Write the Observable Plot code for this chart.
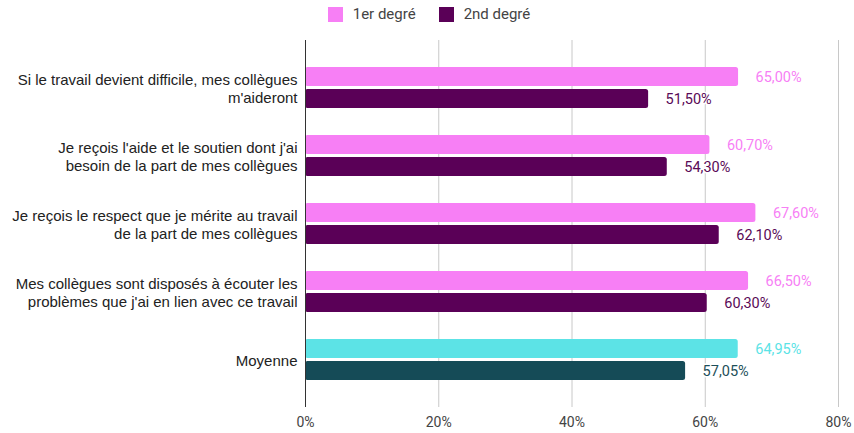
<!DOCTYPE html>
<html>
<head>
<meta charset="utf-8">
<script src="https://cdn.jsdelivr.net/npm/d3@7"></script>
<script src="https://cdn.jsdelivr.net/npm/@observablehq/plot@0.6"></script>
<style>
  html, body { margin: 0; padding: 0; background: #fff; }
  #legend { height: 30px; display: flex; justify-content: center; align-items: center; padding-left: 27px; padding-top: 6px; box-sizing: border-box; }
  #legend span { margin-right: 23px !important; }
  #chart svg { display: block; }
  .ylab text { font-family: 'Liberation Sans', Arial, sans-serif; }
</style>
</head>
<body>
<div id="legend"></div>
<div id="chart"></div>
<script>
const categories = [
  "Si le travail devient difficile, mes collègues\nm'aideront",
  "Je reçois l'aide et le soutien dont j'ai\nbesoin de la part de mes collègues",
  "Je reçois le respect que je mérite au travail\nde la part de mes collègues",
  "Mes collègues sont disposés à écouter les\nproblèmes que j'ai en lien avec ce travail",
  "Moyenne"
];
const premierDegre = [65.00, 60.70, 67.60, 66.50, 64.95];
const secondDegre = [51.50, 54.30, 62.10, 60.30, 57.05];
const seriesNames = ["1er degré", "2nd degré"];
const xTicks = [0, 20, 40, 60, 80];

const colors = {
  pink: "#f77ff5", purple: "#5a0057",
  cyan: "#5ce3e6", teal: "#154b57",
  pinkText: "#f77ff5", purpleText: "#5a0a57",
  cyanText: "#5ce3e6", tealText: "#1d4f5a"
};

const data = categories.map((c, i) => ({cat: c, p: premierDegre[i], s: secondDegre[i], avg: c === "Moyenne"}));
const fmt = v => v.toFixed(2).replace(".", ",") + "%";

const leg = Plot.legend({
  color: {type: "categorical", domain: seriesNames, range: [colors.pink, colors.purple]},
  swatchSize: 15,
  swatchWidth: 15,
  swatchHeight: 15,
  style: {fontFamily: "Roboto", fontSize: "15px", color: "#444", marginLeft: "0px"}
});
document.getElementById("legend").appendChild(leg);
leg.querySelectorAll("svg").forEach(s => { s.style.marginRight = "10px"; });

const chart = Plot.plot({
  width: 854,
  height: 403,
  marginTop: 10,
  marginBottom: 26,
  marginLeft: 305,
  marginRight: 16,
  style: {fontFamily: "Roboto", background: "#fff"},
  x: {domain: [0, 80], ticks: xTicks, tickFormat: d => d + "%"},
  y: {domain: categories, paddingInner: 0.39, paddingOuter: 0.355},
  marks: [
    Plot.gridX(xTicks, {stroke: "#c8c8c8", strokeOpacity: 1}),
    Plot.barX(data, {x: "p", y: "cat", fill: d => d.avg ? colors.cyan : colors.pink, insetBottom: 22, rx: 2.5}),
    Plot.barX(data, {x: "s", y: "cat", fill: d => d.avg ? colors.teal : colors.purple, insetTop: 22, rx: 2.5}),
    Plot.ruleX([0], {stroke: "#333", strokeWidth: 1}),
    Plot.text(data, {x: "p", y: "cat", text: d => fmt(d.p), dy: -11, dx: 17, textAnchor: "start",
      fill: d => d.avg ? colors.cyanText : colors.pinkText, stroke: "white", strokeWidth: 3, fontSize: 14.5}),
    Plot.text(data, {x: "s", y: "cat", text: d => fmt(d.s), dy: 11, dx: 17, textAnchor: "start",
      fill: d => d.avg ? colors.tealText : colors.purpleText, stroke: "white", strokeWidth: 3, fontSize: 14.5}),
    Plot.axisX({ticks: xTicks, tickSize: 0, tickPadding: 10, fontSize: 14, fill: "#444", label: null, tickFormat: d => d + "%"}),
    Plot.axisY({tickSize: 0, tickPadding: 8, fontSize: 15, fill: "#222", label: null, className: "ylab", fontFamily: "'Liberation Sans', Arial, sans-serif", lineHeight: 1.2})
  ]
});
document.getElementById("chart").appendChild(chart);
</script>
</body>
</html>
